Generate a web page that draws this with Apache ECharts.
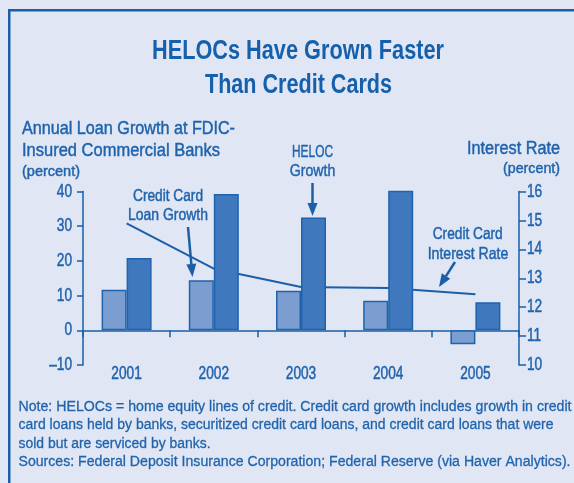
<!DOCTYPE html>
<html><head><meta charset="utf-8">
<script src="https://cdn.jsdelivr.net/npm/echarts@6/dist/echarts.min.js"></script>
<style>html,body{margin:0;padding:0;background:#e0e6f3}#c{width:574px;height:483px}</style>
</head><body><div id="c"></div>
<script>
const years = ['2001','2002','2003','2004','2005'];
const creditCardGrowth = [11.7, 14.4, 11.4, 8.5, -4.0];
const helocGrowth = [20.8, 39.3, 32.5, 40.2, 8.1];
const creditCardRate = [14.9, 13.33, 12.7, 12.66, 12.45];
const leftTickLabels = [-10, 0, 10, 20, 30, 40];
const rightTickLabels = [10, 11, 12, 13, 14, 15, 16];

const FONT = '"Liberation Sans",Arial,sans-serif';
const TXT = '#1f63ad';
const DARK = '#1a5fa8';
const GRID = {left: 83, right: 55, top: 191.5, bottom: 118};

const chart = echarts.init(document.getElementById('c'), null, {renderer: 'canvas'});

const mctx = document.createElement('canvas').getContext('2d');
function measure(s, font) { mctx.font = font; return mctx.measureText(s).width; }

function txt(x, y, s, size, align, weight, color, targetW, sx, sw) {
  const font = (weight || 'normal') + ' ' + size + 'px ' + FONT;
  const scale = targetW ? targetW / measure(s, font) : (sx || 1);
  const c = color || TXT;
  return {type: 'text', x: x, y: y, scaleX: scale, silent: true, z: 10,
          style: {text: s, fill: c, stroke: c, lineWidth: sw == null ? 0.45 : sw, font: font,
                  textAlign: align || 'left', textVerticalAlign: 'middle'}};
}
function arrow(x1, y1, x2, y2) {
  const dx = x2 - x1, dy = y2 - y1, L = Math.hypot(dx, dy);
  const ux = dx / L, uy = dy / L, hl = 13, hw = 5;
  const bx = x2 - ux * hl, by = y2 - uy * hl;
  return [
    {type: 'line', silent: true, z: 10, shape: {x1: x1, y1: y1, x2: bx, y2: by}, style: {stroke: DARK, lineWidth: 2.5}},
    {type: 'polygon', silent: true, z: 10, shape: {points: [[x2, y2], [bx - uy * hw, by + ux * hw], [bx + uy * hw, by - ux * hw]]}, style: {fill: DARK}}
  ];
}

const staticGraphics = [
  {type: 'rect', silent: true, shape: {x: 9.25, y: 10.25, width: 700, height: 700}, style: {fill: 'none', stroke: DARK, lineWidth: 2.5}},
  txt(298, 52, 'HELOCs Have Grown Faster', 27, 'center', 'bold', '#1560ac', 292, null, 0),
  txt(298.5, 85.5, 'Than Credit Cards', 27, 'center', 'bold', '#1560ac', 187, null, 0),
  txt(22, 129, 'Annual Loan Growth at FDIC-', 18, 'left', null, null, 213),
  txt(22, 151, 'Insured Commercial Banks', 18, 'left', null, null, 198),
  txt(22, 171.5, '(percent)', 15, 'left', null, null, 58),
  txt(560, 149, 'Interest Rate', 18, 'right', null, null, 93),
  txt(560, 169, '(percent)', 15, 'right', null, null, 57),
  txt(168, 196, 'Credit Card', 16.5, 'center', null, null, 70),
  txt(168, 215, 'Loan Growth', 16.5, 'center', null, null, 80),
  txt(312.5, 152, 'HELOC', 16.5, 'center', null, null, 41),
  txt(312.5, 171.5, 'Growth', 16.5, 'center', null, null, 45.5),
  txt(467.7, 234.5, 'Credit Card', 16.5, 'center', null, null, 70),
  txt(468, 254.5, 'Interest Rate', 16.5, 'center', null, null, 80.6),
  txt(18.5, 407, 'Note: HELOCs = home equity lines of credit. Credit card growth includes growth in credit', 15.5, 'left', null, null, 553, null, 0.3),
  txt(18.5, 425, 'card loans held by banks, securitized credit card loans, and credit card loans that were', 15.5, 'left', null, null, 535, null, 0.3),
  txt(18.5, 443.5, 'sold but are serviced by banks.', 15.5, 'left', null, null, 192, null, 0.3),
  txt(18.5, 461.5, 'Sources: Federal Deposit Insurance Corporation; Federal Reserve (via Haver Analytics).', 15.5, 'left', null, null, 552, null, 0.3)
].concat(arrow(188, 227, 192.5, 277), arrow(312.5, 183, 312.5, 216), arrow(455, 262, 439, 287));

const axisLine = {show: true, onZero: false, lineStyle: {color: DARK, width: 1.5}};
const option = {
  backgroundColor: '#e0e6f3',
  animation: false,
  grid: GRID,
  xAxis: {
    type: 'category', data: years,
    axisLine: {onZero: true, lineStyle: {color: DARK, width: 1.5}},
    axisTick: {show: true, length: 7, inside: false, lineStyle: {color: DARK, width: 1.5}},
    axisLabel: {show: false}
  },
  yAxis: [
    {type: 'value', min: -10, max: 40, interval: 10, position: 'left', axisLine: axisLine,
     axisTick: {show: true, length: 6, lineStyle: {color: DARK, width: 1.5}},
     splitLine: {show: false}, axisLabel: {show: false}},
    {type: 'value', min: 10, max: 16, interval: 1, position: 'right', axisLine: axisLine,
     axisTick: {show: true, length: 7, lineStyle: {color: DARK, width: 1.5}},
     splitLine: {show: false}, axisLabel: {show: false}}
  ],
  series: [
    {type: 'line', yAxisIndex: 1, data: creditCardRate, symbol: 'none', z: 1,
     lineStyle: {color: DARK, width: 2}},
    {type: 'bar', yAxisIndex: 0, data: creditCardGrowth, barWidth: 25, barGap: '0%', z: 3,
     itemStyle: {color: '#7b9dcf', borderColor: '#1f63ad', borderWidth: 1.5}},
    {type: 'bar', yAxisIndex: 0, data: helocGrowth, barWidth: 25, barGap: '0%', z: 3,
     itemStyle: {color: '#3f78bc', borderColor: '#1f63ad', borderWidth: 1.5}}
  ]
};
chart.setOption(option);

// tick labels placed through the library's own scales
const labelG = [];
const SX = 0.74, LS = 18.5;
const leftX = GRID.left, rightX = 574 - GRID.right;
leftTickLabels.forEach(v => {
  const y = chart.convertToPixel({yAxisIndex: 0}, v);
  labelG.push(txt(leftX - 11, y, String(v).replace('-', '\u2013'), LS, 'right', null, null, null, SX, 0.5));
});
rightTickLabels.forEach(v => {
  const y = chart.convertToPixel({yAxisIndex: 1}, v);
  labelG.push(txt(rightX + 8, y, String(v), LS, 'left', null, null, null, SX, 0.5));
});
const bottomY = chart.convertToPixel({yAxisIndex: 0}, -10);
years.forEach(c => {
  const x = chart.convertToPixel({xAxisIndex: 0}, c);
  labelG.push(txt(x, bottomY + 9, c, LS, 'center', null, null, null, SX, 0.5));
});
chart.setOption({graphic: staticGraphics.concat(labelG)});
</script></body></html>
